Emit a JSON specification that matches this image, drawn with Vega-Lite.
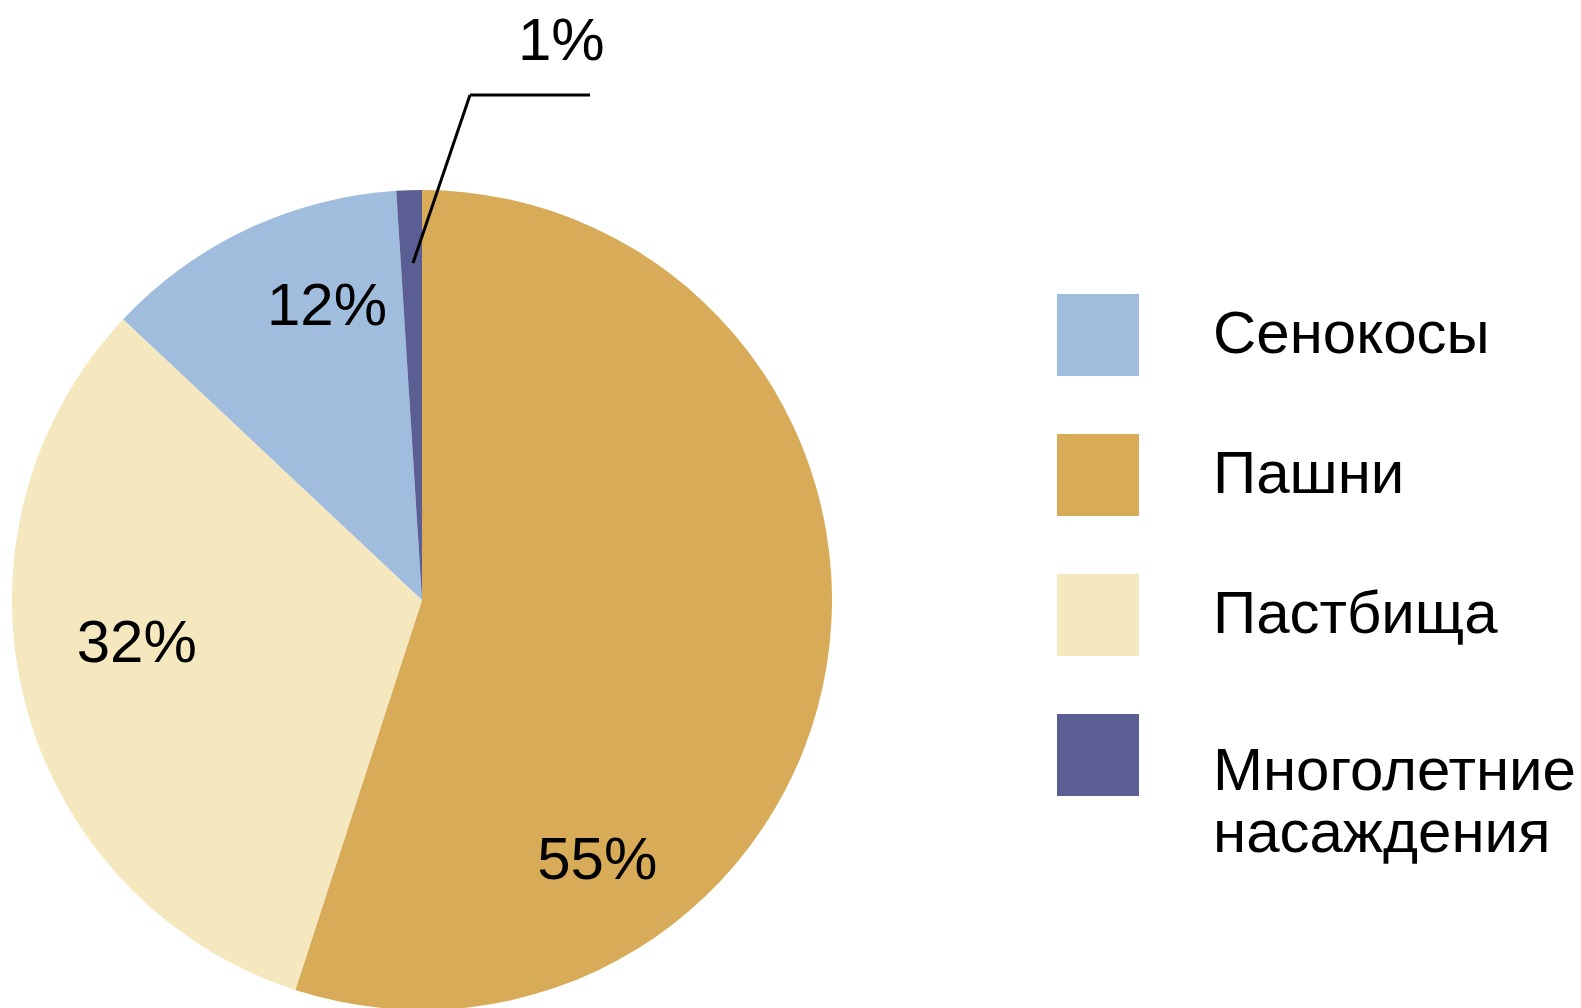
{
  "$schema": "https://vega.github.io/schema/vega-lite/v6.json",
  "width": 1581,
  "height": 1008,
  "autosize": {"type": "none"},
  "padding": 0,
  "background": "white",
  "config": {"view": {"stroke": null}, "font": "Liberation Sans"},
  "data": {
    "values": [
      {"category": "Пашни", "share": 55},
      {"category": "Пастбища", "share": 32},
      {"category": "Сенокосы", "share": 12},
      {"category": "Многолетние насаждения", "share": 1}
    ]
  },
  "transform": [
    {"window": [{"op": "row_number", "as": "rank"}]},
    {"calculate": "datum.share + '%'", "as": "label"}
  ],
  "layer": [
    {
      "mark": {"type": "arc", "outerRadius": 410},
      "encoding": {
        "theta": {"field": "share", "type": "quantitative", "stack": true},
        "order": {"field": "rank", "type": "quantitative"},
        "x": {"datum": 0, "type": "quantitative", "scale": {"domain": [-1.02927, 2.82683], "nice": false, "zero": false}, "axis": null},
        "y": {"datum": 0, "type": "quantitative", "scale": {"domain": [-0.99512, 1.46341], "nice": false, "zero": false}, "axis": null},
        "color": {
          "field": "category",
          "type": "nominal",
          "scale": {
            "domain": ["Сенокосы", "Пашни", "Пастбища", "Многолетние насаждения"],
            "range": ["#A1BDDE", "#D8AB58", "#F5E8BF", "#5B5E93"]
          },
          "legend": {
            "title": null,
            "orient": "none",
            "legendX": 1057,
            "legendY": 294,
            "padding": 0,
            "symbolType": "square",
            "symbolSize": 6724,
            "symbolStrokeWidth": 0,
            "symbolOpacity": 1,
            "labelFont": "Liberation Sans",
            "labelFontSize": 60,
            "labelColor": "#000000",
            "labelOffset": 74,
            "labelLimit": 0,
            "rowPadding": 58,
            "labelExpr": "datum.value == 'Многолетние насаждения' ? ['Многолетние', 'насаждения'] : datum.label",
            "encode": {"labels": {"update": {"dy": {"signal": "datum.value == 'Многолетние насаждения' ? 17 : 0"}}}}
          }
        }
      }
    },
    {
      "mark": {
        "type": "text",
        "radius": 310,
        "fontSize": 60,
        "font": "Liberation Sans",
        "color": "#000000",
        "align": "center",
        "baseline": "alphabetic",
        "dx": {"expr": "datum.category == 'Пашни' ? -131 : datum.category == 'Пастбища' ? 15 : datum.category == 'Сенокосы' ? 37 : 149"},
        "dy": {"expr": "datum.category == 'Пашни' ? 231 : datum.category == 'Пастбища' ? -15 : datum.category == 'Сенокосы' ? 5 : -230"}
      },
      "encoding": {
        "theta": {"field": "share", "type": "quantitative", "stack": true},
        "order": {"field": "rank", "type": "quantitative"},
        "x": {"datum": 0, "type": "quantitative"},
        "y": {"datum": 0, "type": "quantitative"},
        "text": {"field": "label", "type": "nominal"}
      }
    },
    {
      "data": {"values": [{}]},
      "mark": {"type": "rule", "color": "#000000", "strokeWidth": 3},
      "encoding": {
        "x": {"datum": -0.02195, "type": "quantitative"},
        "y": {"datum": 0.82195, "type": "quantitative"},
        "x2": {"datum": 0.11707},
        "y2": {"datum": 1.23171}
      }
    },
    {
      "data": {"values": [{}]},
      "mark": {"type": "rule", "color": "#000000", "strokeWidth": 3},
      "encoding": {
        "x": {"datum": 0.11707, "type": "quantitative"},
        "y": {"datum": 1.23171, "type": "quantitative"},
        "x2": {"datum": 0.40976},
        "y2": {"datum": 1.23171}
      }
    }
  ]
}
